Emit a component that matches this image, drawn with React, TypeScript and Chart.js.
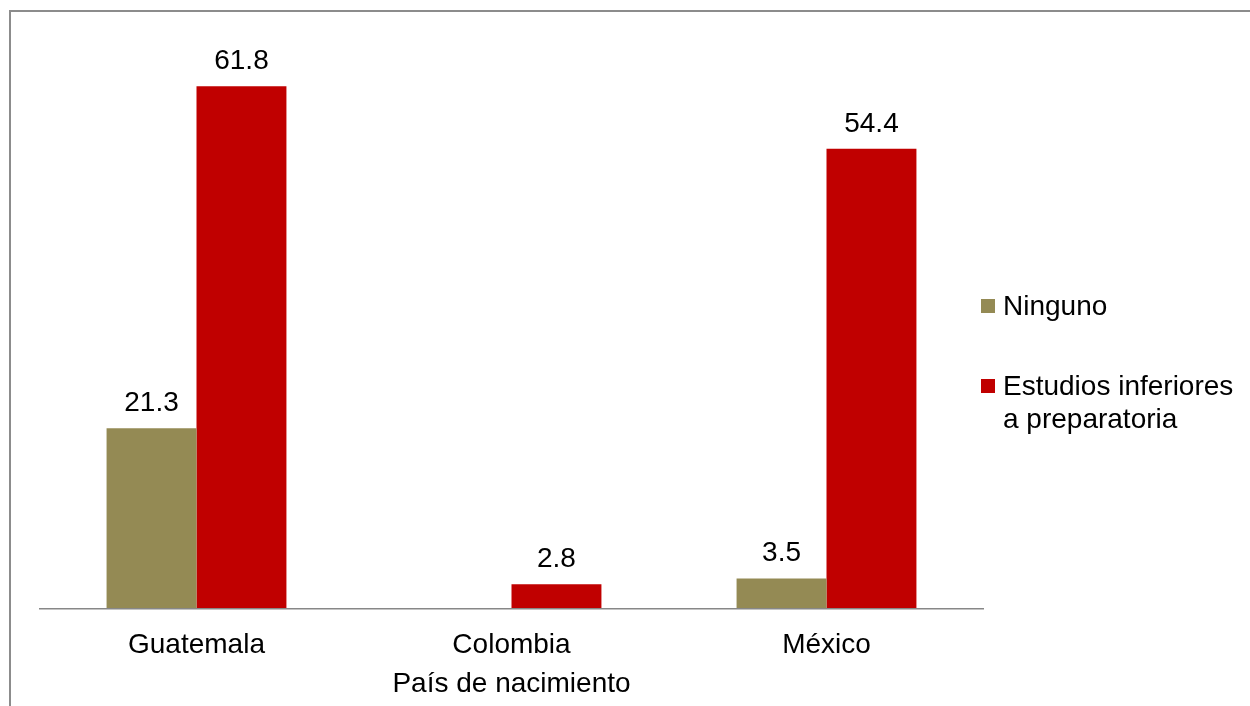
import React, { useEffect, useRef } from "react";
import { Chart, registerables } from "chart.js";

Chart.register(...registerables);

// Country of birth categories and the share (%) in each schooling group
const categories = ["Guatemala", "Colombia", "México"];
const ningunoValues: (number | null)[] = [21.3, null, 3.5];
const inferioresValues: (number | null)[] = [61.8, 2.8, 54.4];
const seriesLabels: string[][] = [["Ninguno"], ["Estudios inferiores", "a preparatoria"]];
const seriesColors = ["#948A54", "#C00000"];
const axisTitle = "País de nacimiento";

const FONT = '28px "Liberation Sans", Arial, sans-serif';

// Draws the outer frame, baseline, value labels, category labels, axis title and legend
const annotationsPlugin = {
  id: "annotations",
  afterDatasetsDraw(chart: Chart) {
    const { ctx, chartArea } = chart;
    const xScale = chart.scales.x;
    ctx.save();

    // outer frame (top and left edges visible)
    ctx.strokeStyle = "#8C8C8C";
    ctx.lineWidth = 2;
    ctx.beginPath();
    ctx.moveTo(10, chart.height + 5);
    ctx.lineTo(10, 11);
    ctx.lineTo(chart.width + 5, 11);
    ctx.stroke();

    // category baseline
    ctx.strokeStyle = "#878787";
    ctx.lineWidth = 1.6;
    ctx.beginPath();
    ctx.moveTo(chartArea.left, chartArea.bottom + 0.8);
    ctx.lineTo(chartArea.right, chartArea.bottom + 0.8);
    ctx.stroke();

    ctx.font = FONT;
    ctx.fillStyle = "#000000";
    ctx.textAlign = "center";
    ctx.textBaseline = "alphabetic";

    // value labels above bars
    chart.data.datasets.forEach((ds, di) => {
      const meta = chart.getDatasetMeta(di);
      meta.data.forEach((el: any, i: number) => {
        const v = ds.data[i] as number | null;
        if (v === null || v === undefined) return;
        ctx.fillText(v.toFixed(1), el.x, el.y - 17);
      });
    });

    // category labels
    categories.forEach((c, i) => {
      ctx.fillText(c, xScale.getPixelForValue(i), chartArea.bottom + 45);
    });

    // axis title
    ctx.fillText(axisTitle, (chartArea.left + chartArea.right) / 2, chartArea.bottom + 84);

    // legend
    ctx.textAlign = "left";
    const legendX = chartArea.right - 3;
    const rowTops = [299, 379];
    seriesLabels.forEach((lines, si) => {
      const top = rowTops[si];
      ctx.fillStyle = seriesColors[si];
      ctx.fillRect(legendX, top, 14, 14);
      ctx.fillStyle = "#000000";
      lines.forEach((line, li) => {
        ctx.fillText(line, legendX + 22, top + 16 + li * 33);
      });
    });

    ctx.restore();
  },
};

export default function App() {
  const canvasRef = useRef<HTMLCanvasElement | null>(null);

  useEffect(() => {
    if (!canvasRef.current) return;
    const chart = new Chart(canvasRef.current, {
      type: "bar",
      data: {
        labels: categories,
        datasets: [
          {
            label: seriesLabels[0].join(" "),
            data: ningunoValues,
            backgroundColor: seriesColors[0],
            borderWidth: 0,
          },
          {
            label: seriesLabels[1].join(" "),
            data: inferioresValues,
            backgroundColor: seriesColors[1],
            borderWidth: 0,
          },
        ],
      },
      options: {
        responsive: false,
        animation: false,
        layout: {
          padding: { left: 39, right: 266, top: 17, bottom: 98 },
        },
        datasets: {
          bar: {
            categoryPercentage: 0.571,
            barPercentage: 1,
          },
        },
        plugins: {
          legend: { display: false },
          tooltip: { enabled: false },
          title: { display: false },
        },
        scales: {
          x: { display: false },
          y: { display: false, min: 0, max: 70 },
        },
      },
      plugins: [annotationsPlugin],
    });
    return () => chart.destroy();
  }, []);

  return (
    <div
      style={{
        position: "fixed",
        left: 0,
        top: 0,
        width: 1250,
        height: 706,
        background: "#ffffff",
      }}
    >
      <canvas ref={canvasRef} width={1250} height={706} style={{ display: "block" }} />
    </div>
  );
}
